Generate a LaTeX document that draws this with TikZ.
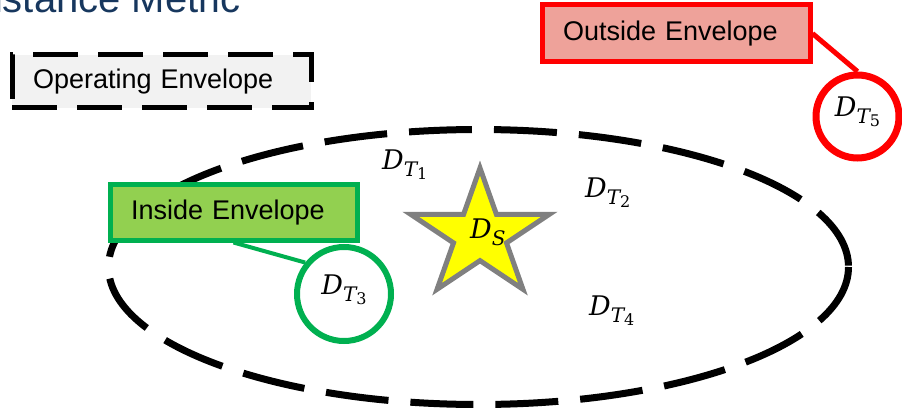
\documentclass[tikz,border=0pt]{standalone}
\usepackage{fontspec}
\setmainfont{Liberation Sans}
\newfontfamily\labelserif{DejaVu Serif}
\newcommand{\dlbl}[2]{{\labelserif\itshape D\raisebox{-7pt}{\fontsize{20}{21}\selectfont #1\ifx&#2&\else\raisebox{-3pt}{\fontsize{16}{17}\selectfont\upshape #2}\fi}}}
\usetikzlibrary{shapes.geometric}
\definecolor{titleblue}{HTML}{17375E}
\definecolor{opfill}{HTML}{F2F2F2}
\definecolor{ingreen}{HTML}{00B050}
\definecolor{infill}{HTML}{92D050}
\definecolor{outred}{HTML}{FF0000}
\definecolor{outfill}{HTML}{EEA29A}
\definecolor{stargray}{HTML}{808080}
\definecolor{staryellow}{HTML}{FFFF00}
\tikzset{
  boxtext/.style={font=\fontsize{27}{30}\selectfont, text=black, align=left, rectangle},
  opbox/.style={boxtext, draw=black, fill=opfill, line width=5pt, dash pattern=on 45pt off 20pt,
     inner xsep=21pt, text width=257pt, minimum height=53pt},
  inbox/.style={boxtext, draw=ingreen, fill=infill, line width=5pt,
     inner xsep=21pt, text width=205pt, minimum height=55pt},
  outbox/.style={boxtext, draw=outred, fill=outfill, line width=5pt,
     inner xsep=21pt, text width=226pt, minimum height=57pt},
  envelope/.style={draw=black, line width=7pt, dash pattern=on 63pt off 22pt},
  mathlbl/.style={font=\fontsize{27}{30}\selectfont, inner sep=0pt},
  circbase/.style={circle, fill=white, inner sep=0pt, text height=12pt, text depth=11pt, font=\fontsize{27}{30}\selectfont},
  incircle/.style={circbase, draw=ingreen, line width=6pt, minimum size=94pt},
  outcircle/.style={circbase, draw=outred, line width=7pt, minimum size=83pt},
  inline/.style={draw=ingreen, line width=4pt},
  outline/.style={draw=outred, line width=5pt},
  starstyle/.style={draw=stargray, fill=staryellow, line width=5pt, line join=miter},
}
\begin{document}
\begin{tikzpicture}[x=1pt,y=-1pt]
\useasboundingbox (0,0) rectangle (902,414);
% partially visible title
\node (title) [anchor=base east, text=titleblue, font=\fontsize{40}{44}\selectfont, inner sep=0pt] at (241,12.5) {Distance Metric};
% operating envelope ellipse
\coordinate (ec) at (478.5,267);
\draw[envelope] (ec) ellipse [x radius=370, y radius=137.5];
% operating envelope label
\node (op) [opbox, anchor=center] at (161.5,81.5) {Operating Envelope};
% star
\coordinate (sc) at (480,235);
\draw[starstyle] (480,168) -- (496.4,214.3) -- (549.4,214.3) -- (506.5,242.9) -- (522.9,289.2)
  -- (480,260.6) -- (437.1,289.2) -- (453.5,242.9) -- (410.6,214.3) -- (463.6,214.3) -- cycle;
\node (ds) [mathlbl, anchor=base west] at (470,238) {\dlbl{S}{}};
% target labels
\node (t1) [mathlbl, anchor=base west] at (382,170) {\dlbl{T}{1}};
\node (t2) [mathlbl, anchor=base west] at (585,197) {\dlbl{T}{2}};
\node (t4) [mathlbl, anchor=base west] at (589,315) {\dlbl{T}{4}};
% inside envelope
\node (c3) [incircle] at (344,294) {\dlbl{T}{3}};
\node (ib) [inbox] at (233.5,212.5) {Inside Envelope};
\draw[inline] (ib.south) -- (c3.141);
% outside envelope
\node (c5) [outcircle] at (857.5,116.5) {\dlbl{T}{5}};
\node (ob) [outbox] at (676,33.5) {Outside Envelope};
\draw[outline] (ob.east) -- (c5.north);
\end{tikzpicture}
\end{document}
